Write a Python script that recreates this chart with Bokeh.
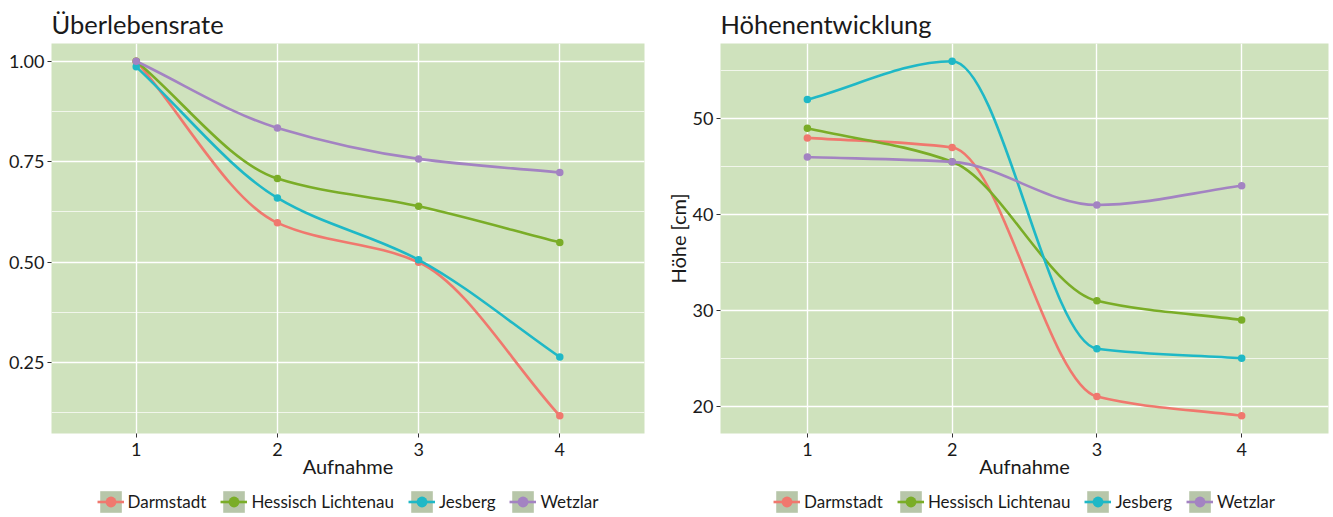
import numpy as np
from bokeh.plotting import figure
from bokeh.layouts import row, column
from bokeh.models import (ColumnDataSource, FixedTicker, Legend, LegendItem,
                          Range1d, PrintfTickFormatter)
from bokeh.embed import file_html
from bokeh.resources import INLINE

# ---------------- data ----------------
aufnahme = [1, 2, 3, 4]
sites = ["Darmstadt", "Hessisch Lichtenau", "Jesberg", "Wetzlar"]
colors = ["#F0786E", "#7AAD27", "#1FB8C6", "#A383C2"]

surv_darmstadt = [1.0, 0.598, 0.500, 0.118]
surv_hessisch = [1.0, 0.708, 0.639, 0.549]
surv_jesberg = [0.986, 0.660, 0.506, 0.264]
surv_wetzlar = [1.0, 0.834, 0.757, 0.723]

hoehe_darmstadt = [48, 47, 21, 19]
hoehe_hessisch = [49, 45.5, 31, 29]
hoehe_jesberg = [52, 56, 26, 25]
hoehe_wetzlar = [46, 45.5, 41, 43]

x_ticks = [1, 2, 3, 4]
surv_ticks = [0.25, 0.50, 0.75, 1.00]
surv_minor = [0.125, 0.375, 0.625, 0.875]
hoehe_ticks = [20, 30, 40, 50]
hoehe_minor = [25, 35, 45, 55]

FONT = "Lato"
TXT = "#1a1a1a"
PANEL_BG = "#CFE2BD"
KEY_BG = "#B7C6A9"
LINE_W = 2.6


def tangents(x, y):
    x = np.asarray(x, float)
    y = np.asarray(y, float)
    d = np.diff(y) / np.diff(x)
    m = np.zeros_like(y)
    m[0] = d[0]
    m[-1] = d[-1]
    for i in range(1, len(y) - 1):
        if d[i - 1] * d[i] > 0:
            m[i] = 2 * d[i - 1] * d[i] / (d[i - 1] + d[i])
        else:
            m[i] = 0.0
    return m


def bezier_source(x, y):
    x = np.asarray(x, float)
    y = np.asarray(y, float)
    m = tangents(x, y)
    h = np.diff(x)
    return ColumnDataSource(dict(
        x0=x[:-1], y0=y[:-1], x1=x[1:], y1=y[1:],
        cx0=x[:-1] + h / 3, cy0=y[:-1] + m[:-1] * h / 3,
        cx1=x[1:] - h / 3, cy1=y[1:] - m[1:] * h / 3,
    ))


def make_panel(title, series, yr, ticks, minor, fmt, ylabel, width, bl, br):
    p = figure(width=width, height=480, output_backend="svg",
               toolbar_location=None, tools="",
               x_range=Range1d(0.4, 4.6), y_range=Range1d(*yr),
               min_border_left=bl, min_border_right=br,
               min_border_top=43, min_border_bottom=0)
    p.background_fill_color = PANEL_BG
    p.border_fill_color = "white"
    p.outline_line_color = None

    p.title.text = title
    p.title.text_font = FONT
    p.title.text_font_size = "25.5px"
    p.title.text_font_style = "normal"
    p.title.text_color = TXT
    p.title.align = "left"

    p.xaxis.ticker = FixedTicker(ticks=x_ticks)
    p.yaxis.ticker = FixedTicker(ticks=ticks, minor_ticks=minor)
    if fmt:
        p.yaxis.formatter = PrintfTickFormatter(format=fmt)
    for ax in (p.xaxis, p.yaxis):
        ax.axis_line_color = None
        ax.major_tick_line_color = "#333333"
        ax.major_tick_out = 4
        ax.major_tick_in = 0
        ax.minor_tick_line_color = None
        ax.major_label_text_font = FONT
        ax.major_label_text_font_size = "18px"
        ax.major_label_text_color = TXT
        ax.major_label_standoff = 3
        ax.axis_label_text_font = FONT
        ax.axis_label_text_font_size = "20px"
        ax.axis_label_text_font_style = "normal"
        ax.axis_label_text_color = TXT
    p.xaxis.major_label_standoff = 5
    p.xaxis.axis_label = "Aufnahme"
    p.xaxis.axis_label_standoff = -5
    if ylabel:
        p.yaxis.axis_label = ylabel
        p.yaxis.axis_label_standoff = 0

    p.xgrid.grid_line_color = "white"
    p.xgrid.grid_line_width = 1.4
    p.ygrid.grid_line_color = "white"
    p.ygrid.grid_line_width = 1.4
    p.ygrid.minor_grid_line_color = "white"
    p.ygrid.minor_grid_line_width = 0.7

    for col, vals in zip(colors, series):
        xs = np.asarray(aufnahme, float)
        ys = np.asarray(vals, float)
        p.bezier(x0="x0", y0="y0", x1="x1", y1="y1",
                 cx0="cx0", cy0="cy0", cx1="cx1", cy1="cy1",
                 source=bezier_source(xs, ys), line_color=col,
                 line_width=LINE_W, line_cap="round")
        p.scatter(xs, ys, size=7.5, fill_color=col, line_color=None)

    # legend strip (separate small figure; its glyphs lie outside its view)
    lf = figure(width=width, height=35, output_backend="svg",
                toolbar_location=None, tools="",
                x_range=Range1d(10, 11), y_range=Range1d(*yr),
                x_axis_type=None, y_axis_type=None,
                min_border_left=bl, min_border_right=br,
                min_border_top=0, min_border_bottom=0)
    lf.grid.visible = False
    lf.outline_line_color = None
    lf.background_fill_color = "white"
    lf.border_fill_color = "white"
    items = []
    for name, col, vals in zip(sites, colors, series):
        xs = np.asarray(aufnahme, float)
        ys = np.asarray(vals, float)
        key = lf.quad(left=xs[:1], right=xs[:1], top=ys[:1], bottom=ys[:1],
                      fill_color=KEY_BG, line_color=None)
        seg = lf.segment(x0=xs[:1], y0=ys[:1], x1=xs[:1], y1=ys[:1],
                         line_color=col, line_width=LINE_W, line_cap="butt")
        pt = lf.scatter(xs[:1], ys[:1], size=7.5, fill_color=col,
                        line_color=None)
        items.append(LegendItem(label=name, renderers=[key, seg, pt]))
    leg = Legend(items=items, orientation="horizontal",
                 location="bottom_center")
    leg.glyph_width = 27
    leg.glyph_height = 27
    leg.label_height = 20
    leg.label_text_font = FONT
    leg.label_text_font_size = "17px"
    leg.label_text_color = TXT
    leg.label_standoff = 4
    leg.spacing = 14
    leg.padding = 0
    leg.margin = 0
    leg.border_line_color = None
    leg.background_fill_alpha = 0
    lf.add_layout(leg)
    return column(p, lf, spacing=0)


left = make_panel("Überlebensrate",
                  [surv_darmstadt, surv_hessisch, surv_jesberg, surv_wetzlar],
                  (0.0739, 1.0441), surv_ticks, surv_minor, "%.2f", None,
                  662, 51, 18)
right = make_panel("Höhenentwicklung",
                   [hoehe_darmstadt, hoehe_hessisch, hoehe_jesberg, hoehe_wetzlar],
                   (17.15, 57.85), hoehe_ticks, hoehe_minor, None, "Höhe [cm]",
                   670, 58, 4)

layout = row(left, right, spacing=0)
open("out.html", "w").write(file_html(layout, INLINE))
